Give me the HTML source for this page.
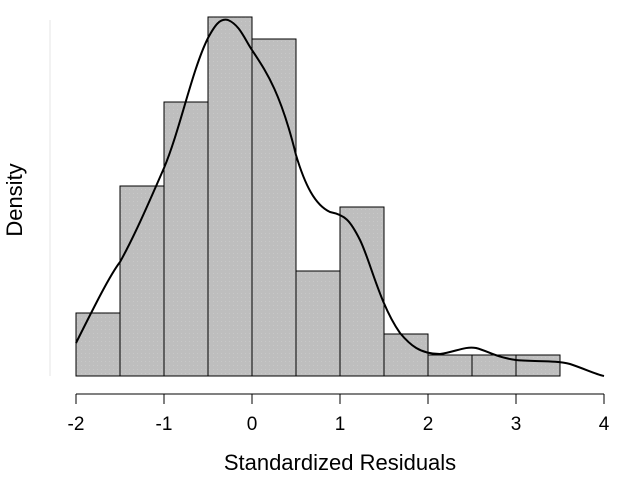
<!DOCTYPE html>
<html><head><style>body{margin:0;background:#fff}</style></head><body>
<svg width="631" height="477" xmlns="http://www.w3.org/2000/svg" font-family="Liberation Sans, sans-serif">
<defs><pattern id="p" width="4" height="4" patternUnits="userSpaceOnUse"><rect width="4" height="4" fill="#bebebe"/><rect x="1" y="1" width="1" height="1" fill="#c8c8c8"/></pattern></defs>
<line x1="50" y1="20" x2="50" y2="376" stroke="#e6e6e6"/>
<g fill="url(#p)" stroke="#000" stroke-width="1">
<rect x="76" y="313" width="44" height="63"/>
<rect x="120" y="186" width="44" height="190"/>
<rect x="164" y="102" width="44" height="274"/>
<rect x="208" y="17" width="44" height="359"/>
<rect x="252" y="39" width="44" height="337"/>
<rect x="296" y="271" width="44" height="105"/>
<rect x="340" y="207" width="44" height="169"/>
<rect x="384" y="334" width="44" height="42"/>
<rect x="428" y="355" width="44" height="21"/>
<rect x="472" y="355" width="44" height="21"/>
<rect x="516" y="355" width="44" height="21"/>
</g>
<path d="M76,343 C95,305 110,275 120,262 C135,235 150,200 164,168 C180,130 192,70 208,38 C215,25 220,18 228,20 C240,25 245,40 252,50 C265,70 280,90 296,155 C305,185 315,205 330,212 C345,215 350,220 360,240 C370,260 380,305 400,333 C410,345 420,354 440,354 C455,352 465,346 476,348 C488,351 495,357 516,360 C535,362 555,360 570,364 C585,369 595,374 604,376" fill="none" stroke="#000" stroke-width="2"/>
<g stroke="#000" stroke-width="1">
<line x1="76" y1="394" x2="604" y2="394"/>
<line x1="76" y1="394" x2="76" y2="404"/><line x1="164" y1="394" x2="164" y2="404"/><line x1="252" y1="394" x2="252" y2="404"/><line x1="340" y1="394" x2="340" y2="404"/><line x1="428" y1="394" x2="428" y2="404"/><line x1="516" y1="394" x2="516" y2="404"/><line x1="604" y1="394" x2="604" y2="404"/>
</g>
<g font-size="19" text-anchor="middle" fill="#000">
<text x="76" y="430">-2</text><text x="164" y="430">-1</text><text x="252" y="430">0</text><text x="340" y="430">1</text><text x="428" y="430">2</text><text x="516" y="430">3</text><text x="604" y="430">4</text>
</g>
<text x="340" y="470" font-size="22" text-anchor="middle">Standardized Residuals</text>
<text x="22" y="200" font-size="22" text-anchor="middle" transform="rotate(-90 22 200)">Density</text>
</svg>
</body></html>
